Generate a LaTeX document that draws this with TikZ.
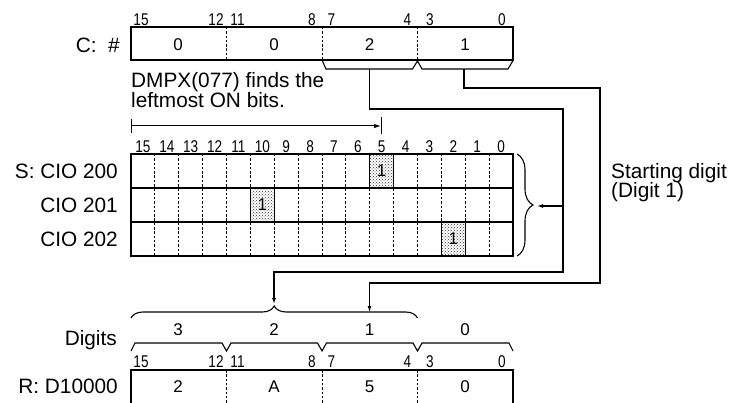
\documentclass[tikz,border=0pt]{standalone}
\usepackage{fontspec}
\setmainfont{Liberation Sans}
\usetikzlibrary{arrows.meta,patterns,decorations.pathreplacing}
\begin{document}
\begin{tikzpicture}[x=1pt,y=-1pt,
  box/.style={line width=1.4pt},
  divider/.style={line width=0.9pt, dash pattern=on 2.5pt off 1.8pt},
  conn/.style={line width=1.1pt},
  arr/.style={conn, -{Latex[length=6pt,width=4pt]}},
  lbl/.style={font=\fontsize{20.8}{22}\selectfont, inner sep=0pt},
  val/.style={font=\fontsize{17}{18}\selectfont, inner sep=0pt},
  bitn/.style={font=\fontsize{17}{17}\selectfont, inner sep=0pt},
  hot/.style={pattern=crosshatch dots, pattern color=black!80},
  bracestyle/.style={conn, decorate, decoration={brace, amplitude=#1}},
]
\useasboundingbox (0,0) rectangle (738,403);
\def\w{23.875}
\newcommand\bt[1]{\scalebox{0.8}[1]{#1}}

% ---------- C box ----------
\node[lbl, anchor=base east] (clbl) at (120,52.5) {C:\ \ \#};
\draw[box] (131,27) rectangle (513,60);
\foreach \x in {226.5,322,417.5} \draw[divider] (\x,27) -- (\x,60);
\node[val] (cv3) at (178,45) {0};
\node[val] (cv2) at (274,45) {0};
\node[val] (cv1) at (369.5,45) {2};
\node[val] (cv0) at (465,45) {1};
\foreach \t/\x [count=\n] in {15/141,12/216,11/237.5,8/312,7/331.5,4/407.5,3/430,0/502}
  \node[bitn] (cb\n) at (\x,19.5) {\bt{\t}};
% braces under digits 2 and 1
\draw[conn] (322,60) -- (326,69) -- (412.5,69) -- (417.5,61) -- (422,69) -- (508,69) -- (513,60.5);

% ---------- DMPX text and dimension line ----------
\node[lbl, anchor=base west] (dm1) at (131,87.5) {DMPX(077) finds the};
\node[lbl, anchor=base west] (dm2) at (131,108) {leftmost ON bits.};
\coordinate (dimL) at (131.5,126);
\coordinate (dimR) at (381,126);
\draw[line width=1pt] (131.5,119) -- (131.5,133);
\draw[line width=1pt] (381,117) -- (381,134);
\draw[line width=1pt, -{Latex[length=7pt,width=4.5pt]}] (dimL) -- (dimR);

% ---------- S grid ----------
\foreach \k in {0,...,15}
  \node[bitn] (sb\k) at ({131+(15-\k+0.5)*\w},146.5) {\bt{\k}};
\foreach \i in {1,...,15} \draw[divider] ({131+\i*\w},154) -- ({131+\i*\w},256);
% highlighted cells
\foreach \c/\r/\nm in {10/0/ha,5/1/hb,13/2/hc}{
  \fill[hot] ({131+\c*\w},{154+\r*34}) rectangle ({131+(\c+1)*\w},{188+\r*34});
  \draw[line width=1.1pt] ({131+\c*\w},{154+\r*34}) rectangle ({131+(\c+1)*\w},{188+\r*34});
  \node[val] (\nm) at ({131+(\c+0.5)*\w},{171+\r*34}) {1};
}
\draw[box] (131,154) rectangle (513,256);
\draw[box] (131,188) -- (513,188);
\draw[box] (131,222) -- (513,222);
\node[lbl, anchor=base east] (s0) at (118,178.5) {S: CIO 200};
\node[lbl, anchor=base east] (s1) at (118,212.5) {CIO 201};
\node[lbl, anchor=base east] (s2) at (118,246.5) {CIO 202};
\draw[bracestyle=16pt] (517,154) -- (517,256);

% ---------- Starting digit ----------
\node[lbl, anchor=base west] (st1) at (611,179) {Starting digit};
\node[lbl, anchor=base west] (st2) at (611,198) {(Digit 1)};

% ---------- connectors ----------
\coordinate (d2) at (369.5,69);
\coordinate (d1) at (464,69);
\coordinate (tipD) at (274,304);
\coordinate (onD) at (369.5,312);
\coordinate (sbr) at (537,206);
\draw[arr] (d2) -- (369.5,109) -- (563,109) -- (563,272) -- (274,272) -- (tipD);
\draw[arr] (d1) -- (464,88) -- (600,88) -- (600,283) -- (369.5,283) -- (onD);
\draw[arr] (563,206) -- (sbr);

% ---------- Digits ----------
\draw[bracestyle=12pt] (131,318) -- (417.5,318);
\node[lbl, anchor=base east] (dg) at (117,345) {Digits};
\node[val] (dv3) at (178,330) {3};
\node[val] (dv2) at (274,330) {2};
\node[val] (dv1) at (369.5,330) {1};
\node[val] (dv0) at (465,330) {0};
\draw[conn] (131,351) -- (135,343) -- (222,343) -- (226.5,351) -- (231,343) -- (317.5,343) -- (322,351) -- (326.5,343) -- (413,343) -- (417.5,351) -- (422,343) -- (509,343) -- (513,351);
\foreach \t/\x [count=\n] in {15/141,12/216,11/237.5,8/312,7/331.5,4/407.5,3/430,0/502}
  \node[bitn] (rb\n) at (\x,361.5) {\bt{\t}};

% ---------- R box ----------
\node[lbl, anchor=base east] (rlbl) at (118,393) {R: D10000};
\draw[box] (131,404) -- (131,370) -- (513,370) -- (513,404);
\foreach \x in {226.5,322,417.5} \draw[divider] (\x,370) -- (\x,404);
\node[val] (rv3) at (178,387) {2};
\node[val] (rv2) at (274,387) {A};
\node[val] (rv1) at (369.5,387) {5};
\node[val] (rv0) at (465,387) {0};
\end{tikzpicture}
\end{document}
